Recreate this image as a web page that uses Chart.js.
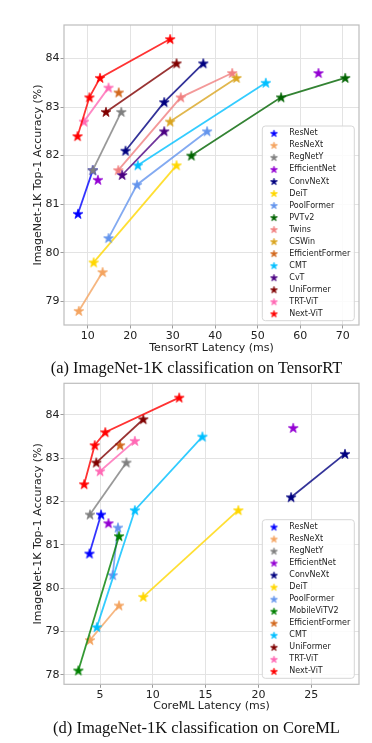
<!DOCTYPE html>
<html>
<head>
<meta charset="UTF-8">
<title>Latência x Acurácia</title>
<script src="https://cdn.jsdelivr.net/npm/chart.js"></script>
<style>
  body { margin: 0; background: #fff; width: 372px; height: 743px; position: relative; overflow: hidden; }
  canvas { position: absolute; left: 0; }
  #graficoTrt { top: 0; }
  #graficoCoreml { top: 370px; }
  .legenda { position: absolute; left: 0; width: 393px; text-align: center; font-family: "Liberation Serif", serif; color: #111; line-height: 20px; white-space: nowrap; }
</style>
</head>
<body>
<canvas id="graficoTrt" width="372" height="360"></canvas>
<div class="legenda" style="top:358px;font-size:16.4px">(a) ImageNet-1K classification on TensorRT</div>
<canvas id="graficoCoreml" width="372" height="350"></canvas>
<div class="legenda" style="top:718px;font-size:16.5px">(d) ImageNet-1K classification on CoreML</div>

<script>
// ticks dos eixos
const trtXTicks = [10, 20, 30, 40, 50, 60, 70];
const trtYTicks = [79, 80, 81, 82, 83, 84];
const cmlXTicks = [5, 10, 15, 20, 25];
const cmlYTicks = [78, 79, 80, 81, 82, 83, 84];

// (a) TensorRT
const trtModels = ['ResNet', 'ResNeXt', 'RegNetY', 'EfficientNet', 'ConvNeXt', 'DeiT', 'PoolFormer', 'PVTv2',
                   'Twins', 'CSWin', 'EfficientFormer', 'CMT', 'CvT', 'UniFormer', 'TRT-ViT', 'Next-ViT'];
const trtLatency = [
    [7.7, 11.2], [7.9, 13.5], [11.2, 17.9], [12.4, 64.3], [18.9, 28.0, 37.2], [11.4, 30.9],
    [14.9, 21.6, 38.1], [34.4, 55.5, 70.6], [17.2, 31.9, 44.0], [29.4, 45.0], [17.3],
    [21.8, 51.9], [18.1, 28.0], [14.3, 30.9], [9.1, 14.9], [7.6, 10.4, 12.9, 29.4]
];
const trtAccuracy = [
    [80.8, 81.7], [78.8, 79.6], [81.7, 82.9], [81.5, 83.7], [82.1, 83.1, 83.9], [79.8, 81.8],
    [80.3, 81.4, 82.5], [82.0, 83.2, 83.6], [81.7, 83.2, 83.7], [82.7, 83.6], [83.3],
    [81.8, 83.5], [81.6, 82.5], [82.9, 83.9], [82.7, 83.4], [82.4, 83.2, 83.6, 84.4]
];

// (d) CoreML
const cmlModels = ['ResNet', 'ResNeXt', 'RegNetY', 'EfficientNet', 'ConvNeXt', 'DeiT', 'PoolFormer',
                   'MobileViTV2', 'EfficientFormer', 'CMT', 'UniFormer', 'TRT-ViT', 'Next-ViT'];
const cmlLatency = [
    [4.0, 5.1], [4.05, 6.8], [4.05, 7.5], [5.8, 23.3], [23.1, 28.2], [9.1, 18.1], [6.2, 6.7],
    [2.95, 6.8], [6.9], [4.7, 8.3, 14.7], [4.65, 9.1], [5.0, 8.3], [3.5, 4.5, 5.5, 12.5]
];
const cmlAccuracy = [
    [80.8, 81.7], [78.8, 79.6], [81.7, 82.9], [81.5, 83.7], [82.1, 83.1], [79.8, 81.8], [80.3, 81.4],
    [78.1, 81.2], [83.3], [79.1, 81.8, 83.5], [82.9, 83.9], [82.7, 83.4], [82.4, 83.3, 83.6, 84.4]
];

const coresModelos = {
    'ResNet': '#0000ff', 'ResNeXt': '#f4a460', 'RegNetY': '#808080', 'EfficientNet': '#9400d3',
    'ConvNeXt': '#000080', 'DeiT': '#ffd700', 'PoolFormer': '#6495ed', 'PVTv2': '#006400',
    'MobileViTV2': '#008000', 'Twins': '#f08080', 'CSWin': '#daa520', 'EfficientFormer': '#d2691e',
    'CMT': '#00bfff', 'CvT': '#4b0082', 'UniFormer': '#800000', 'TRT-ViT': '#ff69b4', 'Next-ViT': '#ff0000'
};
const semLinha = ['EfficientNet'];

function comAlpha(hex, a) {
    const n = parseInt(hex.slice(1), 16);
    return `rgba(${(n >> 16) & 255}, ${(n >> 8) & 255}, ${n & 255}, ${a})`;
}

// estrela cheia no estilo do matplotlib
function estrela(cor, r) {
    const tam = Math.ceil(r * 2 + 3);
    const c = document.createElement('canvas');
    c.width = tam; c.height = tam;
    const g = c.getContext('2d');
    g.translate(tam / 2, tam / 2 + r * 0.08);
    g.beginPath();
    for (let i = 0; i < 10; i++) {
        const raio = i % 2 === 0 ? r : r * 0.382;
        const ang = -Math.PI / 2 + i * Math.PI / 5;
        g.lineTo(raio * Math.cos(ang), raio * Math.sin(ang));
    }
    g.closePath();
    g.fillStyle = cor; g.fill();
    g.lineWidth = 0.7; g.strokeStyle = cor; g.stroke();
    return c;
}

function montarDatasets(modelos, lat, acc) {
    return modelos.map((nome, i) => ({
        label: nome,
        data: lat[i].map((x, k) => ({ x: x, y: acc[i][k] })),
        showLine: !semLinha.includes(nome),
        borderColor: comAlpha(coresModelos[nome], 0.8),
        borderWidth: 1.8,
        pointStyle: estrela(coresModelos[nome], 5.2),
        pointRadius: 5,
        pointHoverRadius: 5,
        legendaEstrela: estrela(coresModelos[nome], 3.7),
        order: -i
    }));
}

const molduraPlugin = {
    id: 'moldura',
    afterDatasetsDraw(chart) {
        const { ctx, chartArea: a } = chart;
        ctx.save();
        ctx.strokeStyle = '#bdbdbd';
        ctx.lineWidth = 1.2;
        ctx.strokeRect(a.left, a.top, a.right - a.left, a.bottom - a.top);
        ctx.restore();
    }
};

const legendaPlugin = {
    id: 'legendaInterna',
    afterDraw(chart, args, opts) {
        const { ctx, chartArea: a } = chart;
        const itens = chart.data.datasets;
        const passo = 12.03;
        const h = itens.length * passo + 2.2;
        const dir = a.right - 4.7, base = a.bottom - opts.folga;
        const esq = 262.3, topo = base - h, r = 3;
        ctx.save();
        ctx.beginPath();
        ctx.moveTo(esq + r, topo);
        ctx.arcTo(dir, topo, dir, base, r);
        ctx.arcTo(dir, base, esq, base, r);
        ctx.arcTo(esq, base, esq, topo, r);
        ctx.arcTo(esq, topo, dir, topo, r);
        ctx.closePath();
        ctx.fillStyle = 'rgba(255,255,255,0.85)';
        ctx.fill();
        ctx.strokeStyle = '#d6d6d6';
        ctx.lineWidth = 1;
        ctx.stroke();
        ctx.font = '8px "DejaVu Sans"';
        ctx.fillStyle = '#222';
        ctx.textBaseline = 'middle';
        itens.forEach((ds, i) => {
            const y = topo + 7.3 + i * passo;
            const img = ds.legendaEstrela;
            ctx.drawImage(img, esq + 11.7 - img.width / 2, y - img.height / 2);
            ctx.fillText(ds.label, esq + 27, y);
        });
        ctx.restore();
    }
};

const fonteEixo = { family: 'DejaVu Sans', size: 11 };

function criarGrafico(id, datasets, cfg) {
    return new Chart(document.getElementById(id).getContext('2d'), {
        type: 'scatter',
        data: { datasets: datasets },
        options: {
            responsive: false,
            maintainAspectRatio: false,
            animation: false,
            layout: { padding: { top: cfg.topo, right: 13, left: 0, bottom: 0 } },
            plugins: {
                legend: { display: false },
                tooltip: { enabled: false },
                legendaInterna: { folga: cfg.folgaLegenda }
            },
            elements: { line: { tension: 0 } },
            scales: {
                x: {
                    type: 'linear', min: cfg.xMin, max: cfg.xMax,
                    afterBuildTicks: s => { s.ticks = cfg.xTicks.map(v => ({ value: v })); },
                    afterFit: s => { s.height = cfg.alturaX; },
                    grid: { color: '#e3e3e3', tickColor: '#9a9a9a', tickLength: 3.5 },
                    border: { display: false },
                    ticks: { font: fonteEixo, color: '#222', padding: 1, maxRotation: 0 },
                    title: { display: true, text: cfg.tituloX, font: fonteEixo, color: '#222', padding: { top: 0, bottom: cfg.padTituloX } }
                },
                y: {
                    type: 'linear', min: cfg.yMin, max: cfg.yMax,
                    afterBuildTicks: s => { s.ticks = cfg.yTicks.map(v => ({ value: v })); },
                    afterFit: s => { s.width = 64; },
                    grid: { color: '#e3e3e3', tickColor: '#9a9a9a', tickLength: 3.5 },
                    border: { display: false },
                    ticks: { font: fonteEixo, color: '#222', padding: 1 },
                    title: { display: true, text: 'ImageNet-1K Top-1 Accuracy (%)', font: fonteEixo, color: '#222', padding: { top: 31.4, bottom: 0 } }
                }
            }
        },
        plugins: [molduraPlugin, legendaPlugin]
    });
}

criarGrafico('graficoTrt', montarDatasets(trtModels, trtLatency, trtAccuracy), {
    topo: 25, alturaX: 35, padTituloX: 5, folgaLegenda: 4.3,
    xMin: 4.42, xMax: 73.84, yMin: 78.51, yMax: 84.69,
    xTicks: trtXTicks, yTicks: trtYTicks, tituloX: 'TensorRT Latency (ms)'
});

criarGrafico('graficoCoreml', montarDatasets(cmlModels, cmlLatency, cmlAccuracy), {
    topo: 13.3, alturaX: 35.7, padTituloX: 7, folgaLegenda: 6,
    xMin: 1.59, xMax: 29.53, yMin: 77.78, yMax: 84.73,
    xTicks: cmlXTicks, yTicks: cmlYTicks, tituloX: 'CoreML Latency (ms)'
});
</script>
</body>
</html>
